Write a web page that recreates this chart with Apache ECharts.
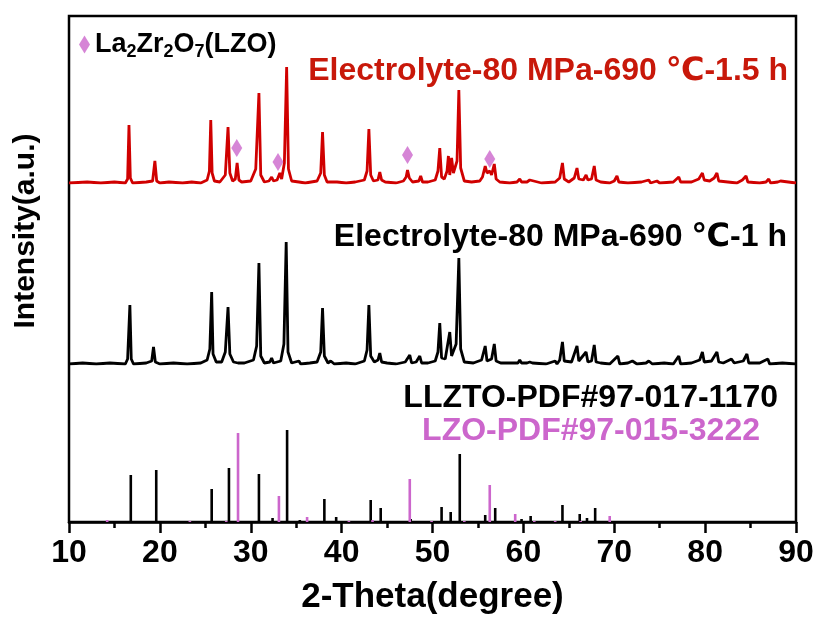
<!DOCTYPE html>
<html>
<head>
<meta charset="utf-8">
<script src="https://cdn.jsdelivr.net/npm/echarts@6/dist/echarts.min.js"></script>
<style>html,body{margin:0;padding:0;background:#fff}#c{width:817px;height:621px}</style>
</head>
<body>
<div id="c"></div>
<script>
// ---- data (2-theta, relative intensity in a.u.) ----
const redPattern = [
[10,0],[12,1],[13.5,0],[15,1],[16.2,0],[16.45,4],[16.6,58],[16.75,5],[17,0],
[18.5,1],[19.2,2],[19.45,22],[19.65,2],[20,0],[21,1],[22.5,0],[23.5,1],[24.5,0],[25.2,3],
[25.45,12],[25.6,63],[25.75,10],[26,2],[26.6,1],[27.2,8],[27.5,56],[27.7,10],[28,2],
[28.3,4],[28.5,20],[28.7,3],[29,1],[30,2],[30.55,14],[30.9,90],[31.1,8],[31.5,1],
[32.0,2],[32.3,6],[32.5,2],[32.9,3],[33.2,10],[33.4,4],[33.7,20],[33.95,116],[34.15,14],[34.5,2],
[35.3,1],[36,0],[37.3,2],[37.7,10],[37.9,51],[38.1,8],[38.4,1],[39.5,1],[40.5,0],[41.5,1],
[42.5,3],[42.8,12],[43.0,54],[43.2,8],[43.5,2],[44.0,3],[44.2,11],[44.4,3],[44.8,1],[46,0],
[46.8,2],[47.1,6],[47.25,13],[47.45,5],[47.8,1],[48.5,2],[48.7,7],[48.9,1],[49.5,1],
[50.3,3],[50.6,12],[50.8,35],[51.0,6],[51.3,4],[51.6,12],[51.75,27],[51.9,8],[52.1,25],[52.3,10],
[52.7,22],[52.9,93],[53.1,15],[53.5,2],[54.3,1],[55.2,2],[55.5,6],[55.8,17],[56.0,10],[56.3,12],
[56.5,8],[56.8,19],[57.0,4],[57.4,1],[58.5,0],[59.3,1],[59.6,4],[59.8,1],[60.4,1],[60.7,3],[60.9,1],
[62,0],[63.5,1],[64.0,5],[64.3,20],[64.5,4],[65,1],[65.6,5],[65.9,15],[66.1,4],[66.6,3],[66.9,8],
[67.1,3],[67.5,4],[67.8,17],[68.0,3],[68.5,1],[69.5,0],[70.0,2],[70.3,7],[70.5,1],[71.5,0],
[73,1],[73.8,3],[74,0],[74.7,2],[75,0],[76.5,1],[77.1,6],[77.3,1],[78.5,1],[79.3,4],[79.7,10],
[79.9,3],[80.5,2],[81,5],[81.3,10],[81.5,2],[82.5,1],[83.5,0],[84.1,3],[84.5,7],[84.7,1],[86,0],
[86.7,1],[87.0,4],[87.2,0],[88,1],[88.3,2],[88.5,0],[90,0]
];
const blackPattern = [
[10,0],[11.5,1],[13,0],[14.5,1],[16.2,0],[16.45,5],[16.7,59],[16.85,5],[17.1,0],
[18.5,1],[19.1,3],[19.3,17],[19.5,2],[20,0],[21.5,1],[23,0],[24.5,1],[25.2,4],[25.5,15],[25.7,72],
[25.85,10],[26.2,2],[26.8,2],[27.2,12],[27.5,57],[27.7,10],[28.1,2],[28.6,1],[29.3,1],[30.3,4],
[30.65,18],[30.9,101],[31.1,8],[31.5,1],[32.1,2],[32.3,6],[32.5,1],[33.3,3],[33.65,20],[33.9,122],
[34.1,12],[34.5,1],[35.3,3],[35.5,0],[36.5,1],[37.3,2],[37.7,12],[37.9,56],[38.1,8],[38.5,1],
[38.8,3],[39.2,0],[40.5,1],[41.5,0],[42.5,3],[42.8,14],[43.0,59],[43.2,8],[43.6,2],[44.0,4],
[44.2,11],[44.4,2],[45,1],[46,0],[47,2],[47.5,9],[47.7,1],[48.2,2],[48.6,8],[48.8,1],[49.5,1],
[50.3,3],[50.6,12],[50.8,41],[51.0,6],[51.4,5],[51.9,32],[52.1,8],[52.6,20],[52.9,106],[53.1,15],
[53.5,2],[54.5,1],[55.4,4],[55.8,18],[56,3],[56.5,5],[56.8,20],[57,3],[57.5,1],[58.5,1],[59.4,1],
[59.6,4],[59.8,1],[60.4,1],[60.7,2],[61,1],[62.5,0],[63.5,3],[63.7,0],[64.0,4],[64.3,22],[64.5,3],
[65.3,2],[65.9,18],[66.1,3],[66.9,12],[67.1,2],[67.5,3],[67.8,19],[68.0,2],[68.5,1],[69.5,0],
[70.4,8],[70.6,0],[71.5,1],[72.0,3],[72.5,0],[73.5,1],[73.8,3],[74.2,0],[75.5,1],[76.5,0],
[77.1,8],[77.3,0],[78.5,1],[79.4,4],[79.7,12],[79.9,2],[80.7,3],[81.3,12],[81.5,2],[82,1],
[82.9,5],[83.2,1],[84.2,3],[84.6,10],[84.8,1],[86,1],[86.9,5],[87.1,0],[88.5,1],[90,0]
];
const llztoSticks = [
[16.8,47],[19.6,52],[25.7,33],[27.6,54],[30.9,48],[32.4,4],[34.0,92],[35.4,2],[38.1,23],[39.4,5],
[43.2,22],[44.3,14],[47.6,3],[51.0,15],[52.0,10],[53.0,68],[55.8,7],[56.9,14],[59.8,3],[60.8,6],
[63.5,1],[64.3,17],[66.2,8],[67.0,4],[67.9,14]
];
const lzoSticks = [
[14.2,2],[23.3,1],[27.3,1],[28.6,89],[33.1,26],[36.2,5],[40.8,1],[43.4,2],[47.5,43],[49.9,1],
[53.5,1],[56.3,37],[59.1,8],[61.2,1],[63.5,1],[66.3,1],[69.5,6]
];
const lzoMarks = [[28.46,35],[33.0,21],[47.25,28],[56.3,24]];
const xTicks = [10,20,30,40,50,60,70,80,90];

const RED = '#d00000', RED_TXT = '#c8180a', MAG = '#cc66cc';
const FONT = '"Liberation Sans", Arial, "DejaVu Sans", sans-serif';

const chart = echarts.init(document.getElementById('c'), null, {renderer:'canvas'});
const L = 69, R = 21;
const hiddenX = (gi) => ({type:'value', gridIndex:gi, min:xTicks[0], max:xTicks[xTicks.length-1], show:false});
const hiddenY = (gi, max) => ({type:'value', gridIndex:gi, min:0, max:max, show:false});

const option = {
  animation:false,
  backgroundColor:'#fff',
  textStyle:{fontFamily:FONT},
  grid:[
    {left:L, right:R, top:16, height:167},
    {left:L, right:R, top:183, height:181},
    {left:L, right:R, top:364, height:158},
    {left:L, right:R, top:16, height:506, show:true, borderColor:'#000', borderWidth:2.5, backgroundColor:'transparent', z:0}
  ],
  xAxis:[
    hiddenX(0), hiddenX(1),
    {type:'value', gridIndex:2, min:10, max:90, interval:10,
     axisLine:{show:true, onZero:false, lineStyle:{color:'#000', width:2.5}},
     axisTick:{show:true, inside:false, length:11, lineStyle:{color:'#000', width:2.5}},
     minorTick:{show:true, splitNumber:2, length:6, lineStyle:{color:'#000', width:2.5}},
     splitLine:{show:false},
     axisLabel:{show:true, color:'#000', fontSize:32, fontWeight:'bold', margin:15, fontFamily:FONT},
     name:'2-Theta(degree)', nameLocation:'middle', nameGap:58,
     nameTextStyle:{color:'#000', fontSize:35, fontWeight:'bold', fontFamily:FONT}},
    hiddenX(3)
  ],
  yAxis:[hiddenY(0,167), hiddenY(1,181), hiddenY(2,158), hiddenY(3,100)],
  legend:{
    left:74, top:26, itemWidth:11, itemHeight:18, itemGap:0,
    data:[{name:'LZO', icon:'diamond'}],
    formatter: () => '{n|La}{s|2}{n|Zr}{s|2}{n|O}{s|7}{n|(LZO)}',
    textStyle:{color:'#000', fontFamily:FONT, rich:{
      n:{fontSize:27, fontWeight:'bold', color:'#000', lineHeight:34, fontFamily:FONT},
      s:{fontSize:18, fontWeight:'bold', color:'#000', lineHeight:10, verticalAlign:'bottom', fontFamily:FONT}
    }}
  },
  series:[
    {type:'line', name:'red', xAxisIndex:0, yAxisIndex:0, data:redPattern, showSymbol:false,
     lineStyle:{color:RED, width:2.8}, z:3},
    {type:'scatter', name:'LZO', xAxisIndex:0, yAxisIndex:0, data:lzoMarks, symbol:'diamond',
     symbolSize:[11,18], itemStyle:{color:MAG}, z:4},
    {type:'line', name:'black', xAxisIndex:1, yAxisIndex:1, data:blackPattern, showSymbol:false,
     lineStyle:{color:'#000', width:2.8}, z:3},
    {type:'bar', name:'LLZTO', xAxisIndex:2, yAxisIndex:2, data:llztoSticks, barWidth:2.6, barGap:'-100%',
     itemStyle:{color:'#000'}, z:3},
    {type:'bar', name:'LZOref', xAxisIndex:2, yAxisIndex:2, data:lzoSticks, barWidth:2.6, barGap:'-100%',
     itemStyle:{color:MAG}, z:4}
  ],
  graphic:[
    {type:'text', x:788, y:71, z:10, style:{text:'Electrolyte-80 MPa-690 ℃-1.5 h', fill:RED_TXT,
      font:'bold 32px '+FONT, textAlign:'right', textVerticalAlign:'middle'}},
    {type:'text', x:787, y:237, z:10, style:{text:'Electrolyte-80 MPa-690 ℃-1 h', fill:'#000',
      font:'bold 32px '+FONT, textAlign:'right', textVerticalAlign:'middle'}},
    {type:'text', x:778, y:398, z:10, style:{text:'LLZTO-PDF#97-017-1170', fill:'#000',
      font:'bold 32px '+FONT, textAlign:'right', textVerticalAlign:'middle'}},
    {type:'text', x:760, y:431, z:10, style:{text:'LZO-PDF#97-015-3222', fill:MAG,
      font:'bold 32px '+FONT, textAlign:'right', textVerticalAlign:'middle'}},
    {type:'text', x:26, y:231, rotation:Math.PI/2, z:10, style:{text:'Intensity(a.u.)', fill:'#000',
      font:'bold 30px '+FONT, textAlign:'center', textVerticalAlign:'middle'}}
  ]
};
chart.setOption(option);
</script>
</body>
</html>
